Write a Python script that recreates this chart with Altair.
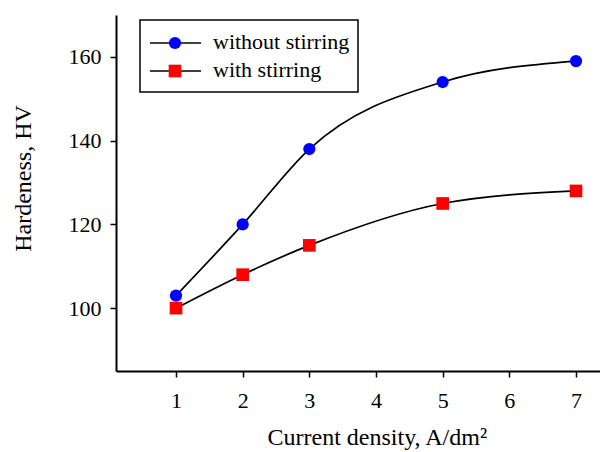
import altair as alt
import pandas as pd

x_vals = [1, 2, 3, 5, 7]
without_stirring = [103, 120, 138, 154, 159]
with_stirring = [100, 108, 115, 125, 128]
series_names = ["without stirring", "with stirring"]
x_ticks = [1, 2, 3, 4, 5, 6, 7]
y_ticks = [100, 120, 140, 160]

df = pd.DataFrame(
    [{"x": x, "y": y, "s": series_names[0]} for x, y in zip(x_vals, without_stirring)]
    + [{"x": x, "y": y, "s": series_names[1]} for x, y in zip(x_vals, with_stirring)]
)

FONT = "Liberation Serif"
W, H = 484, 356

xs = alt.Scale(domain=[0.1, 7.36], nice=False, zero=False)
ys = alt.Scale(domain=[85, 170], nice=False, zero=False)

xax = alt.Axis(values=x_ticks, format="d", grid=False, title="Current density, A/dm²",
               labelFont=FONT, titleFont=FONT, labelFontSize=22, titleFontSize=24,
               titleFontWeight="normal", labelColor="black", titleColor="black",
               domainColor="black", tickColor="black", domainWidth=2, tickWidth=1.5,
               tickSize=6, labelPadding=13, titlePadding=14, titleX=151,
               titleAnchor="start", titleAlign="left")
yax = alt.Axis(values=y_ticks, format="d", grid=False, title="Hardeness, HV",
               labelFont=FONT, titleFont=FONT, labelFontSize=22, titleFontSize=24,
               titleFontWeight="normal", labelColor="black", titleColor="black",
               domainColor="black", tickColor="black", domainWidth=2, tickWidth=1.5,
               tickSize=6, labelPadding=9, titlePadding=33, titleY=163)

base = alt.Chart(df)

lines = base.mark_line(color="black", strokeWidth=1.7, interpolate="monotone", clip=True).encode(
    x=alt.X("x:Q", scale=xs, axis=xax),
    y=alt.Y("y:Q", scale=ys, axis=yax),
    detail="s:N",
)

pts_circle = base.transform_filter(alt.datum.s == series_names[0]).mark_point(
    shape="circle", filled=True, color="#0000ff", size=150, opacity=1
).encode(x=alt.X("x:Q", scale=xs), y=alt.Y("y:Q", scale=ys))

pts_square = base.transform_filter(alt.datum.s == series_names[1]).mark_point(
    shape="square", filled=True, color="#ff0000", size=160, opacity=1
).encode(x=alt.X("x:Q", scale=xs), y=alt.Y("y:Q", scale=ys))

# Legend (drawn in pixel space of the plot area)
OX, OY = 116, 15
one = pd.DataFrame({"a": [0]})
box = alt.Chart(one).mark_rect(
    fill="white", stroke="black", strokeWidth=1.5
).encode(x=alt.value(140 - OX), x2=alt.value(358 - OX), y=alt.value(20 - OY), y2=alt.value(92 - OY))

leg_line0 = alt.Chart(one).mark_rule(color="black", strokeWidth=1.7).encode(
    x=alt.value(150 - OX), x2=alt.value(201 - OX), y=alt.value(43 - OY))
leg_line1 = alt.Chart(one).mark_rule(color="black", strokeWidth=1.7).encode(
    x=alt.value(150 - OX), x2=alt.value(201 - OX), y=alt.value(71 - OY))
leg_c = alt.Chart(one).mark_point(
    shape="circle", filled=True, color="#0000ff", size=150, opacity=1
).encode(x=alt.value(175 - OX), y=alt.value(43 - OY))
leg_s = alt.Chart(one).mark_point(
    shape="square", filled=True, color="#ff0000", size=160, opacity=1
).encode(x=alt.value(175 - OX), y=alt.value(71 - OY))
leg_t0 = alt.Chart(pd.DataFrame({"t": [series_names[0]]})).mark_text(
    font=FONT, fontSize=22, align="left", baseline="middle", color="black"
).encode(x=alt.value(213 - OX), y=alt.value(42 - OY), text="t:N")
leg_t1 = alt.Chart(pd.DataFrame({"t": [series_names[1]]})).mark_text(
    font=FONT, fontSize=22, align="left", baseline="middle", color="black"
).encode(x=alt.value(213 - OX), y=alt.value(70 - OY), text="t:N")

chart = alt.layer(
    lines, pts_circle, pts_square, box, leg_line0, leg_line1, leg_c, leg_s, leg_t0, leg_t1
).properties(
    width=W, height=H,
    autosize=alt.AutoSizeParams(type="none"),
    padding={"left": 116, "top": 15, "right": 0, "bottom": 81},
    background="white",
).configure_view(stroke=None)

chart.save("out.html", embed_options={"renderer": "svg", "actions": False})
